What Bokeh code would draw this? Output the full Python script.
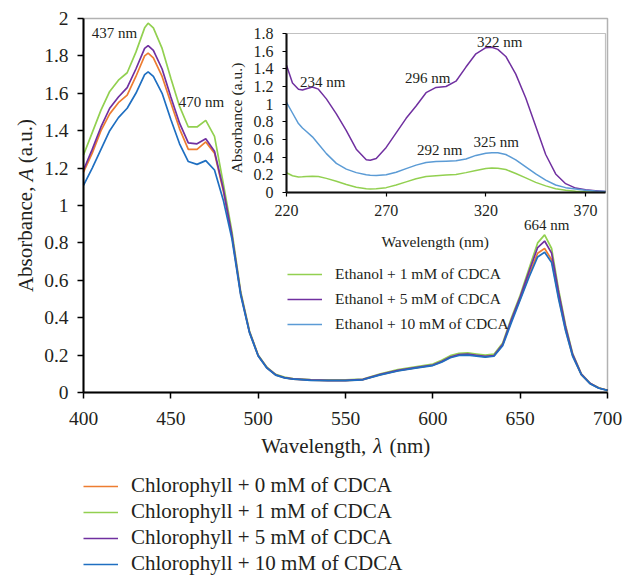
from bokeh.plotting import figure
from bokeh.models import (Range1d, LinearAxis, FixedTicker, Legend, LegendItem,
                          Label, BoxAnnotation)
from bokeh.embed import file_html
from bokeh.resources import INLINE

# ---------------- data: main spectra (chlorophyll) ----------------
wavelength = [400, 405, 410, 415, 420, 425, 430, 435, 437, 440, 445, 450, 455, 460,
              465, 470, 475, 480, 485, 490, 495, 500, 505, 510, 515, 520, 530, 540,
              550, 560, 570, 580, 590, 600, 605, 610, 615, 620, 625, 630, 635, 640,
              645, 650, 655, 660, 664, 668, 672, 676, 680, 685, 690, 695, 700]

chl_0mM = [1.178, 1.28, 1.40, 1.49, 1.55, 1.59, 1.69, 1.80, 1.815, 1.79, 1.69, 1.55, 1.41, 1.30,
           1.30, 1.34, 1.28, 1.08, 0.835, 0.528, 0.323, 0.197, 0.132, 0.094, 0.079, 0.072, 0.066, 0.064,
           0.064, 0.069, 0.096, 0.117, 0.132, 0.146, 0.165, 0.189, 0.202, 0.204, 0.198, 0.192, 0.197, 0.255,
           0.385, 0.50, 0.625, 0.745, 0.77, 0.71, 0.51, 0.335, 0.198, 0.096, 0.048, 0.024, 0.012]

chl_1mM = [1.27, 1.39, 1.51, 1.61, 1.67, 1.71, 1.82, 1.95, 1.975, 1.95, 1.84, 1.68, 1.53, 1.42,
           1.42, 1.455, 1.37, 1.12, 0.86, 0.54, 0.33, 0.20, 0.135, 0.097, 0.082, 0.075, 0.069, 0.067,
           0.067, 0.072, 0.10, 0.122, 0.137, 0.152, 0.172, 0.197, 0.21, 0.212, 0.206, 0.20, 0.205, 0.265,
           0.40, 0.52, 0.66, 0.80, 0.843, 0.77, 0.55, 0.36, 0.21, 0.10, 0.05, 0.025, 0.012]

chl_5mM = [1.19, 1.30, 1.42, 1.52, 1.58, 1.63, 1.73, 1.84, 1.855, 1.83, 1.73, 1.58, 1.44, 1.335,
           1.33, 1.357, 1.29, 1.09, 0.84, 0.53, 0.325, 0.198, 0.133, 0.095, 0.08, 0.073, 0.067, 0.065,
           0.065, 0.07, 0.097, 0.118, 0.133, 0.147, 0.166, 0.19, 0.203, 0.205, 0.199, 0.193, 0.198, 0.258,
           0.39, 0.51, 0.645, 0.775, 0.81, 0.745, 0.535, 0.35, 0.205, 0.098, 0.049, 0.024, 0.012]

chl_10mM = [1.107, 1.20, 1.30, 1.40, 1.47, 1.52, 1.60, 1.70, 1.715, 1.69, 1.60, 1.46, 1.33, 1.235,
            1.22, 1.24, 1.19, 1.03, 0.82, 0.52, 0.32, 0.195, 0.13, 0.093, 0.078, 0.071, 0.065, 0.063,
            0.063, 0.068, 0.094, 0.115, 0.13, 0.144, 0.162, 0.186, 0.198, 0.20, 0.195, 0.189, 0.194, 0.25,
            0.375, 0.495, 0.615, 0.725, 0.75, 0.695, 0.50, 0.33, 0.195, 0.095, 0.047, 0.023, 0.011]

# ---------------- data: inset spectra (ethanol + CDCA) ----------------
inset_wavelength = [220, 223, 226, 228, 230, 233, 236, 240, 245, 250, 255, 260, 262, 265,
                    270, 275, 280, 285, 290, 295, 300, 305, 310, 315, 320, 323, 326, 330,
                    335, 340, 345, 350, 355, 360, 365, 370, 375, 380]

eth_1mM = [0.224, 0.19, 0.176, 0.178, 0.182, 0.185, 0.18, 0.16, 0.128, 0.09, 0.06, 0.043, 0.04, 0.042,
           0.055, 0.085, 0.12, 0.155, 0.18, 0.19, 0.198, 0.205, 0.225, 0.25, 0.272, 0.277, 0.275, 0.26,
           0.215, 0.165, 0.115, 0.075, 0.042, 0.025, 0.013, 0.008, 0.006, 0.005]

eth_5mM = [1.44, 1.24, 1.17, 1.16, 1.175, 1.195, 1.17, 1.06, 0.89, 0.70, 0.49, 0.37, 0.365, 0.385,
           0.51, 0.675, 0.84, 0.98, 1.13, 1.19, 1.20, 1.26, 1.42, 1.57, 1.64, 1.645, 1.62, 1.54,
           1.34, 1.07, 0.75, 0.43, 0.21, 0.10, 0.05, 0.03, 0.02, 0.01]

eth_10mM = [1.02, 0.90, 0.78, 0.73, 0.69, 0.63, 0.55, 0.44, 0.33, 0.265, 0.225, 0.20, 0.195, 0.193,
            0.20, 0.23, 0.27, 0.31, 0.34, 0.35, 0.355, 0.36, 0.38, 0.42, 0.445, 0.45, 0.45, 0.43,
            0.37, 0.29, 0.21, 0.14, 0.085, 0.055, 0.04, 0.025, 0.018, 0.012]

# ---------------- ticks ----------------
main_x_ticks = [400, 450, 500, 550, 600, 650, 700]
main_y_ticks = [0, 0.2, 0.4, 0.6, 0.8, 1, 1.2, 1.4, 1.6, 1.8, 2]
main_y_labels = ["0", "0.2", "0.4", "0.6", "0.8", "1", "1.2", "1.4", "1.6", "1.8", "2"]
inset_x_ticks = [220, 270, 320, 370]
inset_y_ticks = [0, 0.2, 0.4, 0.6, 0.8, 1, 1.2, 1.4, 1.6, 1.8]
inset_y_labels = ["0", "0.2", "0.4", "0.6", "0.8", "1", "1.2", "1.4", "1.6", "1.8"]

# ---------------- styling / geometry ----------------
FONT = "Liberation Serif"
TXT = "#231f20"
C_ORANGE = "#ED7D31"
C_GREEN = "#92D050"
C_PURPLE = "#7030A0"
C_BLUE = "#1F6FC1"
C_BLUE_L = "#5B9BD5"

W, H = 624, 577
# main plot area (canvas pixels) and its data extent
X0, X1, Y0, Y1 = 400, 700, 0, 2
PL, PR, PT, PB = 83, 607, 18, 392
# inset plot area (canvas pixels) and its data extent
IX0, IX1, IY0, IY1 = 220, 380, 0, 1.8
QL, QR, QT, QB = 286, 605, 33, 192

kx = (PR - PL) / (X1 - X0)
ky = (PB - PT) / (Y1 - Y0)
qx = (QR - QL) / (IX1 - IX0)
qy = (QB - QT) / (IY1 - IY0)

def mx(px):  # canvas px -> main x
    return X0 + (px - PL) / kx

def my(py):  # canvas py -> main y
    return Y0 + (PB - py) / ky

def ix(px):
    return IX0 + (px - QL) / qx

def iy(py):
    return IY0 + (QB - py) / qy

# the frame fills the whole canvas; axes are placed at fixed locations
p = figure(width=W, height=H,
           x_range=Range1d(mx(0), mx(W)), y_range=Range1d(my(H), my(0)),
           output_backend="svg", toolbar_location=None,
           x_axis_location=None, y_axis_location=None,
           min_border_left=0, min_border_right=0, min_border_top=0, min_border_bottom=0)
p.extra_x_ranges = {"ix": Range1d(ix(0), ix(W))}
p.extra_y_ranges = {"iy": Range1d(iy(H), iy(0))}
for g in p.grid:
    g.visible = False
p.outline_line_color = None
p.background_fill_color = "white"
p.border_fill_color = "white"

# ---- main plot box and axes ----
p.add_layout(BoxAnnotation(left=X0, right=X1, bottom=Y0, top=Y1, fill_alpha=0,
                           line_color="black", line_width=1.5))

ya = LinearAxis(fixed_location=X0, bounds=(Y0, Y1), ticker=FixedTicker(ticks=main_y_ticks),
                major_label_overrides=dict(zip(main_y_ticks, main_y_labels)))
xa = LinearAxis(fixed_location=Y0, bounds=(X0, X1), ticker=FixedTicker(ticks=main_x_ticks))
for ax in (xa, ya):
    ax.axis_line_width = 2
    ax.axis_line_color = "black"
    ax.major_tick_in = 0
    ax.major_tick_out = 6
    ax.major_tick_line_width = 1.5
    ax.minor_tick_line_color = None
    ax.major_label_text_font = FONT
    ax.major_label_text_font_size = "19.5px"
    ax.major_label_text_color = TXT
xa.major_label_standoff = 13
ya.major_label_standoff = 9
p.add_layout(ya, "left")
p.add_layout(xa, "below")

# main axis titles (italic symbols)
AX_FS = "21px"
for tx, px, style in [("Wavelength,", 260.7, "normal"), ("λ", 372.7, "italic"), ("(nm)", 389.0, "normal")]:
    p.add_layout(Label(x=mx(px), y=my(445), text=tx, text_align="left", text_baseline="middle",
                       text_font=FONT, text_font_size=AX_FS, text_font_style=style, text_color=TXT))
for tx, py, style in [("Absorbance,", 291.6, "normal"), ("A", 180.8, "italic"), ("(a.u.)", 162.8, "normal")]:
    p.add_layout(Label(x=mx(25), y=my(py), text=tx, text_align="left", text_baseline="middle",
                       angle=1.5708, text_font=FONT, text_font_size=AX_FS, text_font_style=style,
                       text_color=TXT))

# ---- main curves ----
r0 = p.line(wavelength, chl_0mM, line_color=C_ORANGE, line_width=1.7)
r1 = p.line(wavelength, chl_1mM, line_color=C_GREEN, line_width=1.7)
r5 = p.line(wavelength, chl_5mM, line_color=C_PURPLE, line_width=1.7)
r10 = p.line(wavelength, chl_10mM, line_color=C_BLUE, line_width=1.7)

# ---- inset curves ----
e1 = p.line(inset_wavelength, eth_1mM, line_color=C_GREEN, line_width=1.5,
            x_range_name="ix", y_range_name="iy")
e5 = p.line(inset_wavelength, eth_5mM, line_color=C_PURPLE, line_width=1.5,
            x_range_name="ix", y_range_name="iy")
e10 = p.line(inset_wavelength, eth_10mM, line_color=C_BLUE_L, line_width=1.5,
             x_range_name="ix", y_range_name="iy")

# ---- inset box and axes ----
p.add_layout(BoxAnnotation(left=IX0, right=IX1, bottom=IY0, top=IY1,
                           x_range_name="ix", y_range_name="iy",
                           fill_alpha=0, line_color="#333333", line_width=1.2))
iya = LinearAxis(x_range_name="ix", y_range_name="iy", fixed_location=IX0,
                 bounds=(IY0, IY1), ticker=FixedTicker(ticks=inset_y_ticks),
                 major_label_overrides=dict(zip(inset_y_ticks, inset_y_labels)))
ixa = LinearAxis(x_range_name="ix", y_range_name="iy", fixed_location=IY0,
                 bounds=(IX0, IX1), ticker=FixedTicker(ticks=inset_x_ticks))
for ax in (iya, ixa):
    ax.axis_line_width = 2
    ax.axis_line_color = "black"
    ax.major_tick_in = 0
    ax.major_tick_out = 4
    ax.major_tick_line_width = 1.2
    ax.minor_tick_line_color = None
    ax.major_label_text_font = FONT
    ax.major_label_text_font_size = "16px"
    ax.major_label_text_color = TXT
iya.major_label_standoff = 9
ixa.major_label_standoff = 8
p.add_layout(iya, "left")
p.add_layout(ixa, "below")

p.add_layout(Label(x=ix(434.7), y=iy(240.7), x_range_name="ix", y_range_name="iy",
                   text="Wavelength (nm)", text_align="center", text_baseline="middle",
                   text_font=FONT, text_font_size="15.5px", text_color=TXT))
p.add_layout(Label(x=ix(236), y=iy(117.5), x_range_name="ix", y_range_name="iy",
                   text="Absorbance (a.u.)", text_align="center", text_baseline="middle",
                   angle=1.5708, text_font=FONT, text_font_size="15.5px", text_color=TXT))

# ---- peak labels ----
for tx, px, py in [("437 nm", 114, 32.3), ("470 nm", 201, 101), ("664 nm", 546.3, 224)]:
    p.add_layout(Label(x=mx(px), y=my(py), text=tx, text_align="center", text_baseline="middle",
                       text_font=FONT, text_font_size="15px", text_color=TXT))
for tx, px, py in [("234 nm", 322.3, 81), ("296 nm", 427.3, 77.3), ("322 nm", 499.3, 41),
                   ("292 nm", 439.3, 149), ("325 nm", 495.7, 141)]:
    p.add_layout(Label(x=ix(px), y=iy(py), text=tx, text_align="center", text_baseline="middle",
                       x_range_name="ix", y_range_name="iy",
                       text_font=FONT, text_font_size="15px", text_color=TXT))

# ---- legends ----
main_legend = Legend(items=[
    LegendItem(label="Chlorophyll + 0 mM of CDCA", renderers=[r0]),
    LegendItem(label="Chlorophyll + 1 mM of CDCA", renderers=[r1]),
    LegendItem(label="Chlorophyll + 5 mM of CDCA", renderers=[r5]),
    LegendItem(label="Chlorophyll + 10 mM of CDCA", renderers=[r10]),
], location=(83, 1), orientation="vertical", border_line_color=None,
    background_fill_alpha=0, padding=0, margin=0, spacing=1,
    glyph_width=35, glyph_height=24, label_height=24, label_standoff=13,
    label_text_font=FONT, label_text_font_size="21px", label_text_color=TXT)

inset_legend = Legend(items=[
    LegendItem(label="Ethanol + 1 mM of CDCA", renderers=[e1]),
    LegendItem(label="Ethanol + 5 mM of CDCA", renderers=[e5]),
    LegendItem(label="Ethanol + 10 mM of CDCA", renderers=[e10]),
], location=(287, 244), orientation="vertical", border_line_color=None,
    background_fill_alpha=0, padding=0, margin=0, spacing=7,
    glyph_width=35, glyph_height=18, label_height=18, label_standoff=13,
    label_text_font=FONT, label_text_font_size="15.5px", label_text_color=TXT)

p.add_layout(main_legend)
p.add_layout(inset_legend)

open("out.html", "w").write(file_html(p, INLINE))
